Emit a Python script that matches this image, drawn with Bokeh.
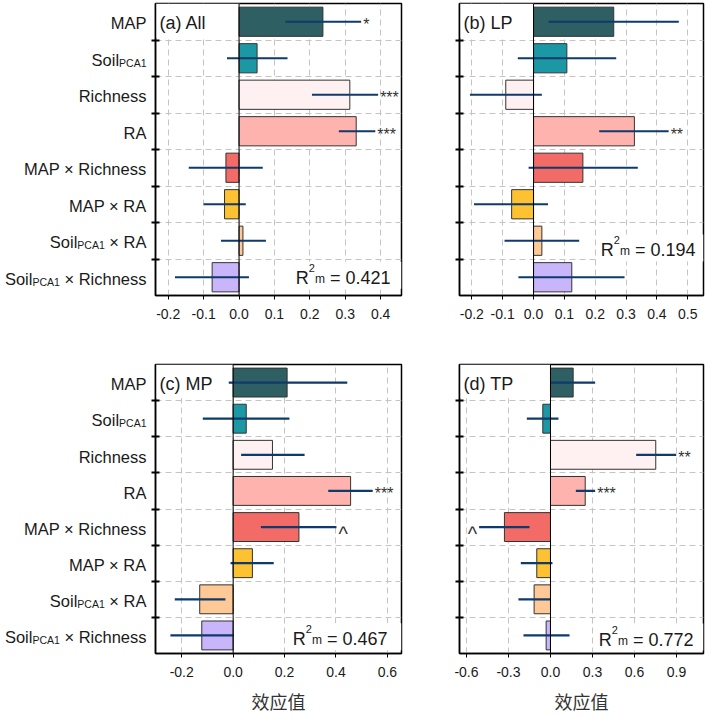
from bokeh.plotting import figure
from bokeh.models import Range1d, FixedTicker, Label, BoxAnnotation, Span, ColumnDataSource, PrintfTickFormatter
from bokeh.layouts import row, column
from bokeh.embed import file_html
from bokeh.resources import INLINE
from bokeh.core.properties import value

# ---------------- data ----------------
categories = ["MAP", "Soil_PCA1", "Richness", "RA", "MAP × Richness",
              "MAP × RA", "Soil_PCA1 × RA", "Soil_PCA1 × Richness"]
bar_colors = ["#2E5F63", "#1B98A3", "#FFF1F1", "#FFB3AE",
              "#F26B66", "#FDC232", "#FEC897", "#C8B5FA"]

est_a = [0.237, 0.051, 0.313, 0.331, -0.037, -0.041, 0.011, -0.076]
lo_a = [0.131, -0.034, 0.206, 0.282, -0.142, -0.100, -0.051, -0.181]
hi_a = [0.345, 0.137, 0.393, 0.385, 0.067, 0.019, 0.076, 0.028]
sig_a = ["*", "", "***", "***", "", "", "", ""]

est_b = [0.260, 0.108, -0.090, 0.327, 0.160, -0.071, 0.027, 0.124]
lo_b = [0.049, -0.051, -0.206, 0.213, -0.016, -0.193, -0.094, -0.049]
hi_b = [0.471, 0.268, 0.027, 0.438, 0.338, 0.047, 0.148, 0.295]
sig_b = ["", "", "", "**", "", "", "", ""]

est_c = [0.210, 0.051, 0.153, 0.457, 0.256, 0.075, -0.130, -0.122]
lo_c = [-0.017, -0.118, 0.031, 0.370, 0.108, -0.010, -0.227, -0.244]
hi_c = [0.444, 0.219, 0.278, 0.543, 0.402, 0.158, -0.030, 0.003]
sig_c = ["", "", "", "***", "^", "", "", ""]

est_d = [0.162, -0.055, 0.752, 0.248, -0.329, -0.098, -0.117, -0.031]
lo_d = [0.002, -0.169, 0.612, 0.181, -0.510, -0.212, -0.229, -0.193]
hi_d = [0.319, 0.057, 0.898, 0.319, -0.150, 0.014, -0.002, 0.136]
sig_d = ["", "", "**", "***", "^", "", "", ""]

panel_titles = ["(a) All", "(b) LP", "(c) MP", "(d) TP"]
r2_values = ["0.421", "0.194", "0.467", "0.772"]

ticks_a = [-0.2, -0.1, 0.0, 0.1, 0.2, 0.3, 0.4]
ticks_b = [-0.2, -0.1, 0.0, 0.1, 0.2, 0.3, 0.4, 0.5]
ticks_c = [-0.2, 0.0, 0.2, 0.4, 0.6]
ticks_d = [-0.6, -0.3, 0.0, 0.3, 0.6, 0.9]

xlim_a = (-0.236, 0.459)
xlim_b = (-0.240, 0.551)
xlim_c = (-0.302, 0.655)
xlim_d = (-0.650, 1.093)

x_title = "效应值"

# ---------------- style ----------------
FONT = "Liberation Sans"
CJK = "Noto Sans CJK SC"
TXT = "#1a1a1a"
ERR = "#0E3A6C"
N = len(categories)
YS = [N - 1 - i for i in range(N)]
LBL_MAIN = 16.5
LBL_SUB = 10.5

AW = {" ": 278, "×": 584, "=": 584, "(": 333, ")": 333, ".": 278,
      "A": 667, "C": 722, "L": 556, "M": 833, "P": 667, "R": 722, "S": 667, "T": 611,
      "a": 556, "b": 556, "c": 500, "d": 556, "e": 556, "h": 556, "i": 222,
      "l": 222, "m": 833, "n": 556, "o": 556, "s": 500}


def tw(s, size):
    return sum(AW.get(ch, 556) for ch in s) / 1000.0 * size


def label_parts(cat):
    if cat.startswith("Soil_PCA1"):
        out = [("Soil", "main", False), ("PCA1", "sub", False)]
        rest = cat[len("Soil_PCA1"):].strip()
        if rest:
            out.append((rest, "main", True))
        return out
    return [(cat, "main", False)]


LBL_W = 148


def build_labels(height, bt, bb):
    p = figure(width=LBL_W, height=height, x_range=Range1d(0, LBL_W),
               y_range=Range1d(-0.5, 7.5), x_axis_location=None, y_axis_location=None,
               output_backend="svg", toolbar_location=None, min_border_left=0,
               min_border_right=0, min_border_top=bt, min_border_bottom=bb)
    p.outline_line_color = None
    p.grid.visible = False
    p.background_fill_color = "white"
    p.border_fill_color = "white"
    rpx = (height - bt - bb) / 8.0
    mx, my, mt, sx, sy, st = [], [], [], [], [], []
    for i, cat in enumerate(categories):
        cur = 146.0
        for t, kind, gap in reversed(label_parts(cat)):
            if kind == "main":
                mx.append(cur); my.append(YS[i] - 1.7 / rpx); mt.append(t)
                cur -= tw(t, LBL_MAIN)
            else:
                sx.append(cur); sy.append(YS[i] - 4.4 / rpx); st.append(t)
                cur -= tw(t, LBL_SUB)
            if gap:
                cur -= tw(" ", LBL_MAIN)
    p.text(x=mx, y=my, text=mt, text_font=value(FONT), text_font_size=value("%gpx" % LBL_MAIN),
           text_align="right", text_baseline="alphabetic", text_color=TXT)
    p.text(x=sx, y=sy, text=st, text_font=value(FONT), text_font_size=value("%gpx" % LBL_SUB),
           text_align="right", text_baseline="alphabetic", text_color=TXT)
    return p


def build(title, est, lo, hi, sig, ticks, xlim, r2, r2_row, r2_pad,
          width, height, bl, br, bt, bb, xtitle):
    p = figure(width=width, height=height, x_range=Range1d(*xlim),
               y_range=Range1d(-0.5, 7.5), output_backend="svg",
               toolbar_location=None, min_border_left=bl, min_border_right=br,
               min_border_top=bt, min_border_bottom=bb)
    fw = width - bl - br
    fh = height - bt - bb
    ppx = fw / (xlim[1] - xlim[0])
    rpx = fh / 8.0

    def xd(px):
        return xlim[0] + px / ppx

    def yd(px):
        return px / rpx

    p.background_fill_color = "white"
    p.border_fill_color = "white"
    p.outline_line_color = "black"
    p.outline_line_width = 1.5

    # axes
    p.xaxis.ticker = FixedTicker(ticks=ticks)
    p.xaxis.formatter = PrintfTickFormatter(format="%.1f")
    p.xaxis.major_tick_in = 0
    p.xaxis.major_tick_out = 4
    p.xaxis.major_tick_line_color = "black"
    p.xaxis.minor_tick_line_color = None
    p.xaxis.axis_line_color = "black"
    p.xaxis.axis_line_width = 1.5
    p.xaxis.major_label_text_font = FONT
    p.xaxis.major_label_text_font_size = "14px"
    p.xaxis.major_label_text_color = TXT
    p.xaxis.major_label_standoff = 9

    yt = [0.5 + k for k in range(N - 1)]
    p.yaxis.ticker = FixedTicker(ticks=yt)
    p.yaxis.major_label_overrides = {t: "" for t in yt}
    p.yaxis.major_label_standoff = 0
    p.yaxis.major_tick_in = 4
    p.yaxis.major_tick_out = 4
    p.yaxis.major_tick_line_width = 2
    p.yaxis.major_tick_line_color = "black"
    p.yaxis.minor_tick_line_color = None
    p.yaxis.axis_line_color = "black"
    p.yaxis.axis_line_width = 1.5

    p.grid.grid_line_color = "#C4C4C4"
    p.grid.grid_line_dash = "6 4"
    p.grid.grid_line_width = 1

    if xtitle:
        p.xaxis.axis_label = xtitle
        p.xaxis.axis_label_text_font = CJK
        p.xaxis.axis_label_text_font_size = "18px"
        p.xaxis.axis_label_text_font_style = "normal"
        p.xaxis.axis_label_text_color = "#333333"
        p.xaxis.axis_label_standoff = 8

    # white boxes behind the panel title and R2 text
    p.add_layout(BoxAnnotation(left=xlim[0], right=0, bottom=6.5 + yd(2.3), top=7.5,
                               fill_color="white", fill_alpha=1.0, line_color=None,
                               level="underlay"))

    total = tw("R", 18) + tw("2", 11) + tw("m", 12) + tw(" ", 18) + tw("= " + r2, 18)
    start = fw - r2_pad - total
    yb = r2_row - yd(2.0)
    p.add_layout(BoxAnnotation(left=xd(start - 4), right=xlim[1],
                               bottom=max(-0.5, yb - yd(11)), top=min(7.5, yb + yd(16)),
                               fill_color="white", fill_alpha=1.0, line_color=None,
                               level="underlay"))

    # bars + error bars
    src = ColumnDataSource(dict(y=YS, est=est, lo=lo, hi=hi, color=bar_colors))
    p.hbar(y="y", left=0, right="est", height=0.8, fill_color="color",
           line_color="#333333", line_width=1, source=src)
    p.segment(x0="lo", y0="y", x1="hi", y1="y", line_color=ERR, line_width=2.2, source=src)
    p.add_layout(Span(location=0, dimension="height", line_color="black", line_width=1))

    # significance marks
    for i in range(N):
        if not sig[i]:
            continue
        big = sig[i] == "^"
        fs = 20 if big else 16
        drop = 7.0 if big else 3.0
        if est[i] >= 0:
            xx, al, off = hi[i], "left", 2
        else:
            xx, al, off = lo[i], "right", -2
        p.text(x=[xx], y=[YS[i] - yd(drop)], text=[sig[i]], text_font=value(FONT),
               text_font_size=value("%dpx" % fs), text_align=al, text_baseline="alphabetic",
               x_offset=off, text_color="#333333")

    # panel title
    p.add_layout(Label(x=xd(4), y=7 - yd(1.5), text=title, text_font=FONT,
                       text_font_size="18px", text_baseline="alphabetic",
                       text_align="left", text_color=TXT))

    # R2 label composed of pieces
    cur = start
    pieces = [("R", 18, 0.0), ("2", 11, yd(10)), ("m", 12, -yd(1))]
    for t, fs, dy in pieces:
        p.add_layout(Label(x=xd(cur), y=yb + dy, text=t, text_font=FONT,
                           text_font_size="%dpx" % fs, text_baseline="alphabetic",
                           text_align="left", text_color=TXT))
        cur += tw(t, fs)
    cur += tw(" ", 18)
    p.add_layout(Label(x=xd(cur), y=yb, text="= " + r2, text_font=FONT,
                       text_font_size="18px", text_baseline="alphabetic",
                       text_align="left", text_color=TXT))
    return p


TOP_H, TOP_BT, TOP_BB = 358, 3, 63
BOT_H, BOT_BT, BOT_BB = 358, 6, 63

la = build_labels(TOP_H, TOP_BT, TOP_BB)
lc = build_labels(BOT_H, BOT_BT, BOT_BB)
pa = build(panel_titles[0], est_a, lo_a, hi_a, sig_a, ticks_a, xlim_a, r2_values[0], 0.044, 11,
           256, TOP_H, 7, 3, TOP_BT, TOP_BB, None)
pb = build(panel_titles[1], est_b, lo_b, hi_b, sig_b, ticks_b, xlim_b, r2_values[1], 0.79, 8,
           304, TOP_H, 55, 5, TOP_BT, TOP_BB, None)
pc = build(panel_titles[2], est_c, lo_c, hi_c, sig_c, ticks_c, xlim_c, r2_values[2], -0.05, 14,
           256, BOT_H, 7, 3, BOT_BT, BOT_BB, x_title)
pd_ = build(panel_titles[3], est_d, lo_d, hi_d, sig_d, ticks_d, xlim_d, r2_values[3], -0.06, 10,
            304, BOT_H, 55, 5, BOT_BT, BOT_BB, x_title)

layout = column(row(la, pa, pb), row(lc, pc, pd_))
open("out.html", "w").write(file_html(layout, INLINE))
